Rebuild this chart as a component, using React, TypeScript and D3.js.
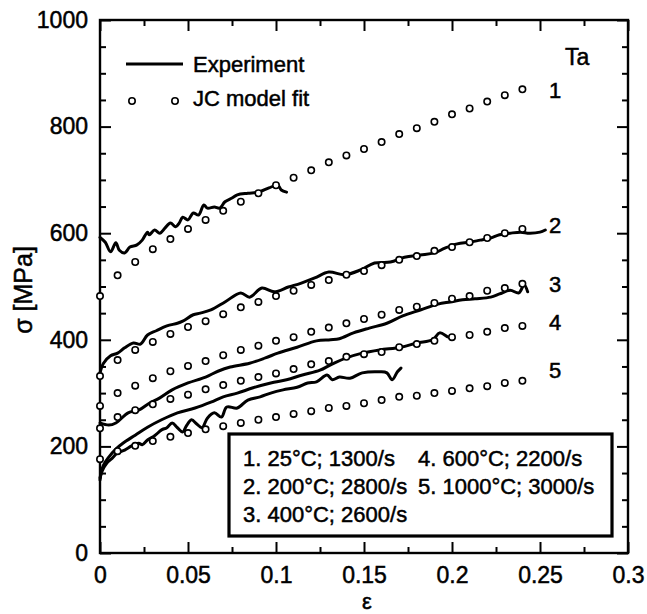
import React, { useEffect, useRef } from "react";
import * as d3 from "d3";

// JC model fit: strain grid and stress values (MPa)
const modelStrain = [0, 0.01, 0.02, 0.03, 0.04, 0.05, 0.06, 0.07, 0.08, 0.09, 0.1, 0.11, 0.12,
  0.13, 0.14, 0.15, 0.16, 0.17, 0.18, 0.19, 0.2, 0.21, 0.22, 0.23, 0.24];
const fit1 = [482, 521, 546, 570, 589, 608, 625, 642, 659, 675, 690, 704, 718, 733, 746, 758, 771, 786, 797, 809, 823, 834, 847, 859, 870];
const fit2 = [332, 362, 381, 396, 411, 424, 435, 448, 461, 471, 482, 492, 503, 512, 522, 529, 540, 550, 557, 567, 574, 583, 591, 600, 608];
const fit3 = [276, 300, 314, 328, 341, 351, 360, 371, 381, 389, 398, 405, 415, 423, 431, 439, 447, 456, 462, 469, 477, 482, 492, 497, 505];
const fit4 = [234, 255, 268, 279, 289, 297, 307, 315, 323, 330, 337, 345, 354, 360, 368, 373, 377, 386, 392, 398, 405, 409, 415, 422, 426];
const fit5 = [176, 191, 201, 210, 218, 225, 232, 238, 244, 250, 255, 261, 266, 272, 276, 281, 287, 293, 295, 300, 304, 309, 313, 319, 323];

// Experiment curves: [strain, stress]
const exp1 = [[0, 592], [0.003, 583], [0.006, 565], [0.009, 582], [0.011, 568], [0.014, 563], [0.017, 574], [0.021, 578],
  [0.024, 587], [0.027, 602], [0.028, 597], [0.031, 606], [0.034, 600], [0.037, 610], [0.040, 619], [0.043, 612],
  [0.045, 619], [0.047, 630], [0.050, 625], [0.053, 638], [0.056, 634], [0.059, 653], [0.061, 647], [0.065, 649],
  [0.068, 647], [0.071, 659], [0.075, 666], [0.078, 672], [0.084, 675], [0.090, 677], [0.096, 685], [0.101, 690],
  [0.103, 681], [0.106, 677]];
const exp2 = [[0, 338], [0.002, 356], [0.006, 370], [0.010, 375], [0.014, 385], [0.019, 394], [0.023, 392], [0.027, 409],
  [0.032, 417], [0.038, 426], [0.044, 431], [0.047, 435], [0.053, 447], [0.057, 450], [0.063, 456], [0.071, 471],
  [0.080, 488], [0.085, 480], [0.092, 497], [0.099, 490], [0.107, 499], [0.114, 506], [0.122, 516], [0.130, 527],
  [0.139, 522], [0.148, 531], [0.156, 544], [0.165, 546], [0.173, 555], [0.182, 559], [0.190, 563], [0.196, 572],
  [0.203, 580], [0.210, 583], [0.216, 587], [0.222, 591], [0.227, 597], [0.233, 600], [0.239, 602], [0.244, 600],
  [0.250, 602], [0.253, 606]];
const exp3 = [[0, 244], [0.005, 240], [0.009, 244], [0.016, 263], [0.022, 268], [0.028, 281], [0.034, 291], [0.041, 306],
  [0.050, 319], [0.060, 330], [0.067, 341], [0.074, 349], [0.085, 356], [0.094, 366], [0.101, 375], [0.112, 386],
  [0.123, 398], [0.131, 400], [0.136, 402], [0.144, 413], [0.153, 422], [0.163, 431], [0.172, 445], [0.182, 456],
  [0.192, 467], [0.199, 471], [0.206, 475], [0.213, 477], [0.222, 480], [0.227, 486], [0.233, 493], [0.238, 488],
  [0.241, 503], [0.243, 490]];
const exp4 = [[0, 141], [0.002, 165], [0.005, 180], [0.009, 195], [0.013, 206], [0.020, 221], [0.027, 236], [0.035, 250],
  [0.044, 263], [0.054, 272], [0.063, 283], [0.070, 293], [0.078, 300], [0.087, 310], [0.097, 319], [0.106, 325],
  [0.115, 334], [0.125, 343], [0.131, 353], [0.140, 366], [0.149, 375], [0.159, 381], [0.171, 386], [0.180, 394],
  [0.189, 400], [0.193, 413], [0.198, 405], [0.201, 403]];
const exp5 = [[0, 137], [0.001, 152], [0.004, 169], [0.007, 178], [0.010, 188], [0.014, 193], [0.018, 201], [0.022, 206],
  [0.024, 203], [0.027, 212], [0.031, 220], [0.035, 231], [0.038, 235], [0.041, 244], [0.044, 235], [0.047, 227],
  [0.049, 238], [0.052, 250], [0.055, 242], [0.058, 235], [0.061, 253], [0.065, 263], [0.069, 255], [0.072, 274],
  [0.078, 272], [0.084, 287], [0.091, 293], [0.097, 300], [0.104, 306], [0.112, 311], [0.118, 319], [0.123, 321],
  [0.129, 334], [0.132, 325], [0.136, 330], [0.142, 328], [0.149, 338], [0.159, 340], [0.163, 338], [0.166, 325],
  [0.169, 340], [0.171, 347]];

const fits = [fit1, fit2, fit3, fit4, fit5];
const experiments = [exp1, exp2, exp3, exp4, exp5];
const curveNames = ["1", "2", "3", "4", "5"];
const legendRows = [
  ["1. 25°C; 1300/s", "4. 600°C; 2200/s"],
  ["2. 200°C; 2800/s", "5. 1000°C; 3000/s"],
  ["3. 400°C; 2600/s", ""],
];

const xTicks = [0, 0.05, 0.1, 0.15, 0.2, 0.25, 0.3];
const xTickLabels = ["0", "0.05", "0.1", "0.15", "0.2", "0.25", "0.3"];
const xMinor = [0.025, 0.075, 0.125, 0.175, 0.225, 0.275];
const yTicks = [0, 200, 400, 600, 800, 1000];
const yMinor = [50, 100, 150, 250, 300, 350, 450, 500, 550, 650, 700, 750, 850, 900, 950];

const FONT = "'Liberation Sans', Arial, Helvetica, sans-serif";

export default function App() {
  const ref = useRef(null);

  useEffect(() => {
    const svg = d3.select(ref.current);
    svg.selectAll("*").remove();

    const margin = { left: 100, top: 20 };
    const w = 528, h = 533;
    const g = svg.append("g").attr("transform", `translate(${margin.left},${margin.top})`);

    const x = d3.scaleLinear().domain([0, 0.3]).range([0, w]);
    const y = d3.scaleLinear().domain([0, 1000]).range([h, 0]);

    // scanned-print look: slightly heavier glyphs
    const ink = (sel, size) => sel.attr("font-size", size).attr("font-family", FONT)
      .attr("fill", "#000").attr("stroke", "#000").attr("stroke-width", 0.5);

    const styleAxis = (sel) => {
      sel.select(".domain").remove();
      sel.selectAll("line").attr("stroke", "#000").attr("stroke-width", 2);
      sel.selectAll("text").call(ink, 23);
    };

    // major ticks with labels
    g.append("g").attr("transform", `translate(0,${h})`)
      .call(d3.axisBottom(x).tickValues(xTicks).tickSize(-11).tickPadding(14).tickFormat((d, i) => xTickLabels[i]))
      .call(styleAxis);
    g.append("g")
      .call(d3.axisLeft(y).tickValues(yTicks).tickSize(-11).tickPadding(12).tickFormat(d3.format("d")))
      .call(styleAxis);
    g.append("g").call(d3.axisTop(x).tickValues(xTicks).tickSize(-11).tickFormat(() => "")).call(styleAxis);
    g.append("g").attr("transform", `translate(${w},0)`)
      .call(d3.axisRight(y).tickValues(yTicks).tickSize(-11).tickFormat(() => "")).call(styleAxis);

    // minor ticks
    g.append("g").attr("transform", `translate(0,${h})`)
      .call(d3.axisBottom(x).tickValues(xMinor).tickSize(-6).tickFormat(() => "")).call(styleAxis);
    g.append("g").call(d3.axisTop(x).tickValues(xMinor).tickSize(-6).tickFormat(() => "")).call(styleAxis);
    g.append("g").call(d3.axisLeft(y).tickValues(yMinor).tickSize(-6).tickFormat(() => "")).call(styleAxis);
    g.append("g").attr("transform", `translate(${w},0)`)
      .call(d3.axisRight(y).tickValues(yMinor).tickSize(-6).tickFormat(() => "")).call(styleAxis);

    g.append("rect").attr("width", w).attr("height", h)
      .attr("fill", "none").attr("stroke", "#000").attr("stroke-width", 2.4);

    // experiment lines
    const lineGen = d3.line().x(d => x(d[0])).y(d => y(d[1])).curve(d3.curveCatmullRom);
    experiments.forEach(data => {
      g.append("path").attr("d", lineGen(data))
        .attr("fill", "none").attr("stroke", "#000").attr("stroke-width", 3)
        .attr("stroke-linejoin", "round").attr("stroke-linecap", "round");
    });

    // model fit circles
    fits.forEach(vals => {
      g.append("g").selectAll("circle").data(vals).join("circle")
        .attr("cx", (d, i) => x(modelStrain[i])).attr("cy", d => y(d)).attr("r", 3.2)
        .attr("fill", "#fff").attr("stroke", "#000").attr("stroke-width", 1.6);
    });

    // curve numbers
    const labelY = [98, 233, 292, 330, 378];
    curveNames.forEach((t, i) => {
      svg.append("text").attr("x", 549).attr("y", labelY[i]).text(t).call(ink, 22);
    });
    svg.append("text").attr("x", 565).attr("y", 65).text("Ta").call(ink, 23);

    // top legend
    svg.append("line").attr("x1", 126).attr("x2", 183).attr("y1", 64).attr("y2", 64)
      .attr("stroke", "#000").attr("stroke-width", 3);
    svg.append("text").attr("x", 193).attr("y", 72).text("Experiment").call(ink, 22);
    [132, 175].forEach(cx => {
      svg.append("circle").attr("cx", cx).attr("cy", 101).attr("r", 3.2)
        .attr("fill", "#fff").attr("stroke", "#000").attr("stroke-width", 1.6);
    });
    svg.append("text").attr("x", 193).attr("y", 106).text("JC model fit").call(ink, 22);

    // conditions box
    svg.append("rect").attr("x", 229).attr("y", 434).attr("width", 383).attr("height", 102)
      .attr("fill", "#fff").attr("stroke", "#000").attr("stroke-width", 3.2);
    legendRows.forEach((row, r) => {
      row.forEach((t, c) => {
        svg.append("text").attr("x", c === 0 ? 243 : 418).attr("y", 466 + r * 28).text(t).call(ink, 22);
      });
    });

    // axis titles
    svg.append("text").attr("x", 367).attr("y", 609).attr("text-anchor", "middle").text("ε").call(ink, 22);
    svg.append("text").attr("transform", "translate(32,290) rotate(-90)").attr("text-anchor", "middle")
      .text("σ [MPa]").call(ink, 25);
  }, []);

  return (
    <svg ref={ref} width={647} height={614}
      style={{ position: "absolute", left: 0, top: 0, background: "#fff" }} />
  );
}
